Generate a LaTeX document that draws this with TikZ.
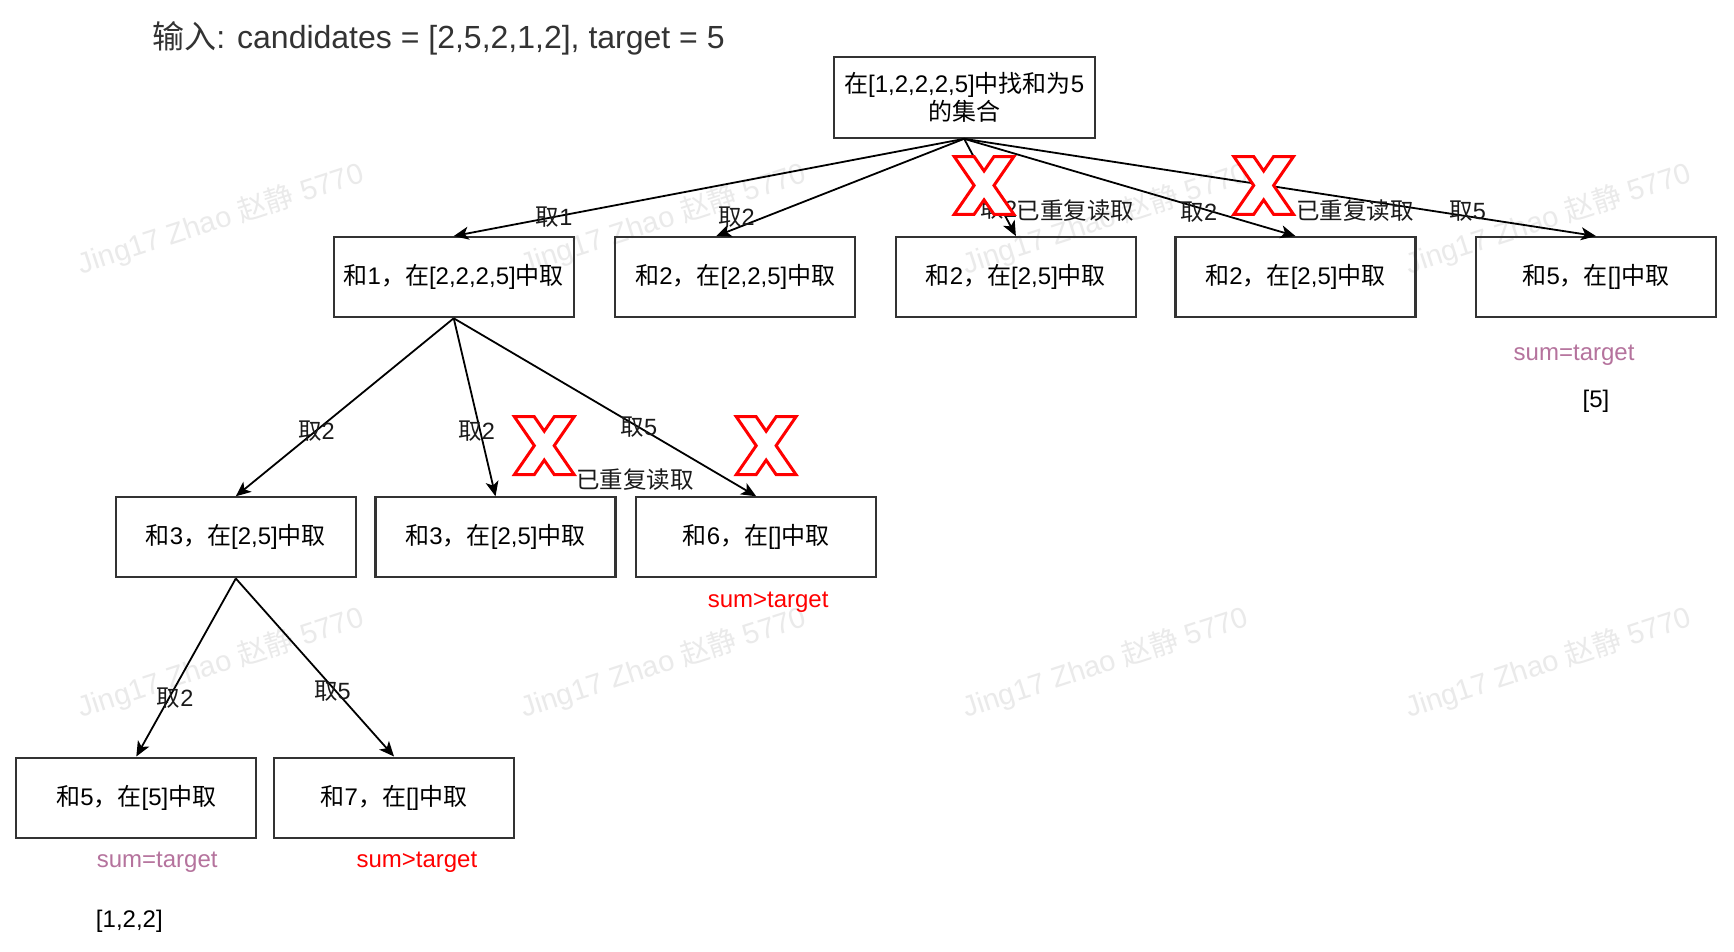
\documentclass[tikz,border=0pt]{standalone}
\usepackage{fontspec}
\setmainfont{Liberation Sans}
\newfontfamily\cjk{Noto Sans CJK SC}
\usetikzlibrary{arrows.meta}
\newcommand\zhs[1]{{\cjk #1}}
\definecolor{boxline}{HTML}{333333}
\definecolor{titlegray}{HTML}{333333}
\definecolor{sumeq}{HTML}{B5739D}
\definecolor{sumgt}{HTML}{FF0000}
\definecolor{wmark}{HTML}{EAEAEA}
\definecolor{lbltext}{HTML}{1A1A1A}
\tikzset{
  redxmark/.pic={
    \draw[draw=red, fill=white, line width=3pt, line join=miter]
      (-30,-29) -- (-10,-29) -- (0,-14.5) -- (10,-29) -- (30,-29) -- (10,0)
      -- (30,29) -- (10,29) -- (0,14.5) -- (-10,29) -- (-30,29) -- (-10,0) -- cycle;
  }
}
\begin{document}
\begin{tikzpicture}[x=0.995pt,y=-0.997pt,
  box/.style={draw=boxline, line width=2.2pt, minimum width=240pt, minimum height=80pt,
    inner sep=0pt, font=\fontsize{24}{28}\selectfont, text=black, align=center},
  edge/.style={draw=black, line width=1.8pt, -{Stealth[length=15pt,width=13pt,inset=4pt]}},
  lbl/.style={font=\fontsize{23.5}{28}\selectfont, inner sep=0pt, text=lbltext},
  note/.style={font=\fontsize{24}{28}\selectfont, inner sep=0pt},
  wm/.style={font=\fontsize{29}{32}\selectfont, text=wmark, rotate=18, inner sep=0pt}
]
\useasboundingbox (0pt,0pt) rectangle (1734pt,-952pt);
\fill[white] (0pt,0pt) rectangle (1734pt,-952pt);

% watermarks
\node[wm] (w1) at (222,220) {Jing17 Zhao \zhs{赵静} 5770};
\node[wm] (w2) at (667,220) {Jing17 Zhao \zhs{赵静} 5770};
\node[wm] (w3) at (1111,220) {Jing17 Zhao \zhs{赵静} 5770};
\node[wm] (w4) at (1556,220) {Jing17 Zhao \zhs{赵静} 5770};
\node[wm] (w5) at (222,665) {Jing17 Zhao \zhs{赵静} 5770};
\node[wm] (w6) at (667,665) {Jing17 Zhao \zhs{赵静} 5770};
\node[wm] (w7) at (1111,665) {Jing17 Zhao \zhs{赵静} 5770};
\node[wm] (w8) at (1556,665) {Jing17 Zhao \zhs{赵静} 5770};

% title
\node[anchor=west, inner sep=0pt, font=\fontsize{32}{36}\selectfont, text=titlegray] (title) at (153,38)
  {\zhs{输入}: candidates = [2,5,2,1,2], target = 5};

% boxes
\node[box, minimum width=261pt, minimum height=81pt] (root) at (969,97.5)
  {\zhs{在}[1,2,2,2,5]\zhs{中找和为}5\\\zhs{的集合}};
\node[box] (B1) at (456,278) {\zhs{和}1\zhs{，在}[2,2,2,5]\zhs{中取}};
\node[box] (B2) at (739,278) {\zhs{和}2\zhs{，在}[2,2,5]\zhs{中取}};
\node[box] (B3) at (1021,278) {\zhs{和}2\zhs{，在}[2,5]\zhs{中取}};
\node[box] (B4) at (1302,278) {\zhs{和}2\zhs{，在}[2,5]\zhs{中取}};
\node[box] (B5) at (1604,278) {\zhs{和}5\zhs{，在}[]\zhs{中取}};
\node[box] (C1) at (237,539) {\zhs{和}3\zhs{，在}[2,5]\zhs{中取}};
\node[box] (C2) at (498,539) {\zhs{和}3\zhs{，在}[2,5]\zhs{中取}};
\node[box] (C3) at (760,539) {\zhs{和}6\zhs{，在}[]\zhs{中取}};
\node[box] (D1) at (137,800) {\zhs{和}5\zhs{，在}[5]\zhs{中取}};
\node[box] (D2) at (396,800) {\zhs{和}7\zhs{，在}[]\zhs{中取}};

% edges
\draw[edge] (root.south) -- (B1.north);
\draw[edge] (root.south) -- ([xshift=-19pt]B2.north);
\draw[edge] (root.south) -- (B3.north);
\draw[edge] (root.south) -- (B4.north);
\draw[edge] (root.south) -- (B5.north);
\draw[edge] (B1.south) -- (C1.north);
\draw[edge] (B1.south) -- (C2.north);
\draw[edge] (B1.south) -- (C3.north);
\draw[edge] (C1.south) -- (D1.north);
\draw[edge] (C1.south) -- (D2.north);

% edge labels
\node[lbl] (l1) at (557,218) {\zhs{取}1};
\node[lbl] (l2) at (740,218) {\zhs{取}2};
\node[lbl] (l3) at (1004,210) {\zhs{取}2};
\node[lbl] (l4) at (1205,213) {\zhs{取}2};
\node[lbl] (l5) at (1475,212) {\zhs{取}5};
\node[lbl] (m1) at (318,432) {\zhs{取}2};
\node[lbl] (m2) at (479,432) {\zhs{取}2};
\node[lbl] (m3) at (642,428) {\zhs{取}5};
\node[lbl] (n1) at (176,700) {\zhs{取}2};
\node[lbl] (n2) at (334,693) {\zhs{取}5};

% red crosses
\pic (x1) at (989,186) {redxmark};
\pic (x2) at (1270,186) {redxmark};
\pic (x3) at (547,447) {redxmark};
\pic (x4) at (770,447) {redxmark};

\node[lbl] (d1) at (1081,211) {\zhs{已重复读取}};
\node[lbl] (d2) at (1362,211) {\zhs{已重复读取}};
\node[lbl] (d3) at (638,481) {\zhs{已重复读取}};

% notes
\node[note, text=sumeq] (s1) at (1582,356) {sum=target};
\node[note, text=black] (r1) at (1604,403) {[5]};
\node[note, text=sumgt] (s2) at (772,604) {sum>target};
\node[note, text=sumeq] (s3) at (158,865) {sum=target};
\node[note, text=sumgt] (s4) at (419,865) {sum>target};
\node[note, text=black] (r2) at (130,924) {[1,2,2]};
\end{tikzpicture}
\end{document}
